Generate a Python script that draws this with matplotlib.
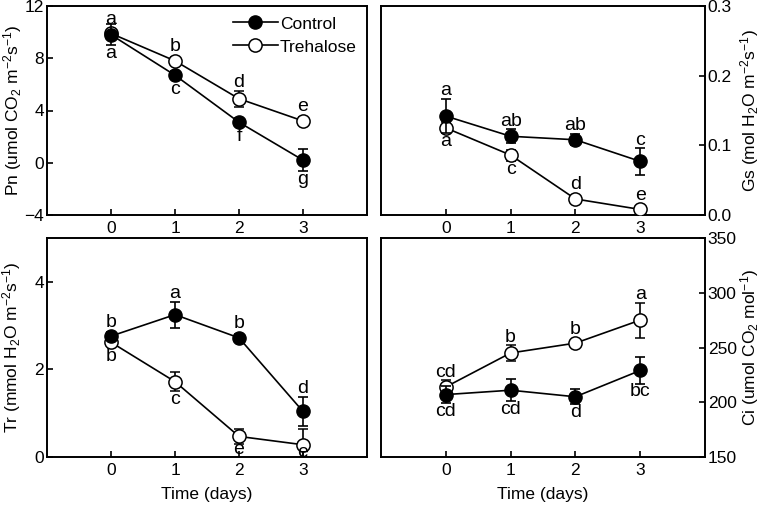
import matplotlib
matplotlib.use("Agg")
import matplotlib.pyplot as plt
from matplotlib.lines import Line2D
from matplotlib.ticker import FormatStrFormatter

plt.rcParams['font.family'] = ['Liberation Sans', 'DejaVu Sans']
plt.rcParams['mathtext.fontset'] = 'custom'
plt.rcParams['mathtext.rm'] = 'Liberation Sans'
plt.rcParams['mathtext.it'] = 'Liberation Sans'
plt.rcParams['mathtext.default'] = 'regular'

days = [0, 1, 2, 3]

# Pn
pn_ctrl = [9.8, 6.7, 3.1, 0.2]
pn_ctrl_err = [0.8, 0.3, 0.3, 0.85]
pn_treh = [9.9, 7.8, 4.9, 3.2]
pn_treh_err = [0.3, 0.3, 0.6, 0.3]
pn_ctrl_lab = ['a', 'c', 'f', 'g']
pn_treh_lab = ['a', 'b', 'd', 'e']

# Gs
gs_ctrl = [0.142, 0.113, 0.108, 0.077]
gs_ctrl_err = [0.025, 0.010, 0.008, 0.019]
gs_treh = [0.125, 0.086, 0.023, 0.008]
gs_treh_err = [0.008, 0.008, 0.003, 0.003]
gs_ctrl_lab = ['a', 'ab', 'ab', 'c']
gs_treh_lab = ['a', 'c', 'd', 'e']

# Tr
tr_ctrl = [2.76, 3.25, 2.72, 1.04]
tr_ctrl_err = [0.1, 0.3, 0.08, 0.33]
tr_treh = [2.62, 1.72, 0.47, 0.28]
tr_treh_err = [0.08, 0.22, 0.17, 0.35]
tr_ctrl_lab = ['b', 'a', 'b', 'd']
tr_treh_lab = ['b', 'c', 'e', 'e']

# Ci
ci_ctrl = [207, 211, 205, 229]
ci_ctrl_err = [8, 10, 7, 12]
ci_treh = [214, 245, 254, 275]
ci_treh_err = [6, 7, 2, 16]
ci_ctrl_lab = ['cd', 'cd', 'd', 'bc']
ci_treh_lab = ['cd', 'b', 'b', 'a']

FS = 12.5
LFS = 14
W, H = 762, 507


def letters(ax, x, y, err, labs, sides, maxoff=None):
    # significance letters just past the error bar end
    if maxoff is None:
        maxoff = [99] * len(x)
    for xi, yi, ei, lab, s, mo in zip(x, y, err, labs, sides, maxoff):
        p0 = ax.transData.transform((xi, yi))
        p1 = ax.transData.transform((xi, yi + ei))
        epx = abs(p1[1] - p0[1])
        off = min(max(epx, 6) + 8, mo) * 72 / 100
        ax.annotate(lab, (xi, yi), xytext=(0, s * off), textcoords='offset points',
                    ha='center', va='center', fontsize=LFS, zorder=5)


def panel(ax, ctrl, ctrl_err, treh, treh_err, ctrl_lab, treh_lab,
          ctrl_side, treh_side, ylim, yticks, ylabel, labx, right=False,
          treh_max=None):
    ax.set_xlim(-1, 4)
    ax.set_ylim(*ylim)
    ax.errorbar(days, treh, yerr=treh_err, color='black', lw=1.2, marker='o',
                ms=9.5, mfc='white', mec='black', mew=1.1, capsize=3.5,
                elinewidth=1.2, capthick=1.2, zorder=3)
    ax.errorbar(days, ctrl, yerr=ctrl_err, color='black', lw=1.2, marker='o',
                ms=9.5, mfc='black', mec='black', capsize=3.5,
                elinewidth=1.2, capthick=1.2, zorder=4)
    ax.set_xticks(days)
    ax.set_yticks(yticks)
    ax.tick_params(direction='in', length=4, width=1.2, labelsize=FS, pad=2)
    ax.tick_params(axis='x', pad=4)
    if right:
        ax.yaxis.tick_right()
        ax.yaxis.set_label_position('right')
    ax.set_ylabel(ylabel, fontsize=FS, rotation=90, va='center', ha='center')
    ax.yaxis.set_label_coords(labx, 0.5)
    for sp in ax.spines.values():
        sp.set_linewidth(1.4)
    letters(ax, days, ctrl, ctrl_err, ctrl_lab, ctrl_side)
    letters(ax, days, treh, treh_err, treh_lab, treh_side, treh_max)


fig = plt.figure(figsize=(W / 100, H / 100), dpi=100)
ax1 = fig.add_axes([47 / W, 1 - 215 / H, 320 / W, 209 / H])
ax2 = fig.add_axes([381 / W, 1 - 215 / H, 324 / W, 209 / H])
ax3 = fig.add_axes([47 / W, 1 - 457 / H, 320 / W, 219 / H])
ax4 = fig.add_axes([381 / W, 1 - 457 / H, 324 / W, 219 / H])

panel(ax1, pn_ctrl, pn_ctrl_err, pn_treh, pn_treh_err, pn_ctrl_lab, pn_treh_lab,
      [-1, -1, -1, -1], [1, 1, 1, 1], (-4, 12), [-4, 0, 4, 8, 12],
      r'Pn (umol CO$_2$ m$^{-2}$s$^{-1}$)', (13 - 47) / 320)
panel(ax2, gs_ctrl, gs_ctrl_err, gs_treh, gs_treh_err, gs_ctrl_lab, gs_treh_lab,
      [1, 1, 1, 1], [-1, -1, 1, 1], (0, 0.3), [0.0, 0.1, 0.2, 0.3],
      r'Gs (mol H$_2$O m$^{-2}$s$^{-1}$)', (750 - 381) / 324, right=True)
panel(ax3, tr_ctrl, tr_ctrl_err, tr_treh, tr_treh_err, tr_ctrl_lab, tr_treh_lab,
      [1, 1, 1, 1], [-1, -1, -1, -1], (0, 5), [0, 2, 4],
      r'Tr (mmol H$_2$O m$^{-2}$s$^{-1}$)', (12 - 47) / 320,
      treh_max=[99, 99, 13, 8])
panel(ax4, ci_ctrl, ci_ctrl_err, ci_treh, ci_treh_err, ci_ctrl_lab, ci_treh_lab,
      [-1, -1, -1, -1], [1, 1, 1, 1], (150, 350), [150, 200, 250, 300, 350],
      r'Ci (umol CO$_2$ mol$^{-1}$)', (750 - 381) / 324, right=True)
ax2.yaxis.set_major_formatter(FormatStrFormatter('%.1f'))

for ax in (ax3, ax4):
    ax.set_xlabel('Time (days)', fontsize=FS, labelpad=7)

handles = [
    Line2D([], [], color='black', lw=1.2, marker='o', ms=9.5, mfc='black', mec='black'),
    Line2D([], [], color='black', lw=1.2, marker='o', ms=9.5, mfc='white', mec='black', mew=1.1),
]
ax1.legend(handles, ['Control', 'Trehalose'], loc='upper right', frameon=False,
           fontsize=FS, handlelength=2.6, handletextpad=0.1, borderaxespad=0.2,
           labelspacing=0.45, bbox_to_anchor=(1.0, 1.0))

fig.savefig('out.png', dpi=100)
